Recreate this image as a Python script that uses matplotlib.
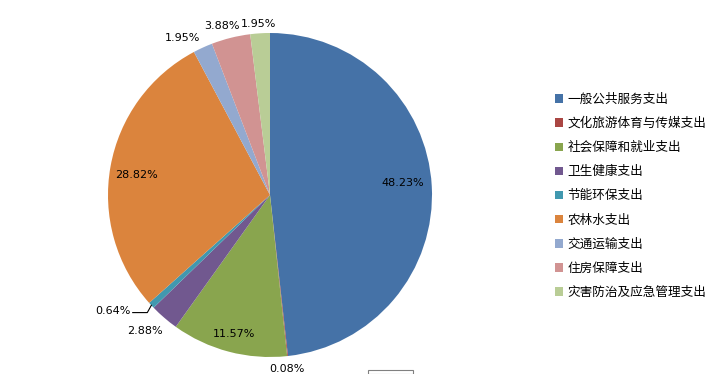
import numpy as np
import matplotlib
matplotlib.use('Agg')
import matplotlib.pyplot as plt
from matplotlib.patches import Rectangle

plt.rcParams['font.family'] = ['Noto Sans CJK SC', 'DejaVu Sans']

# === Data ===
categories = ['一般公共服务支出', '文化旅游体育与传媒支出', '社会保障和就业支出', '卫生健康支出',
              '节能环保支出', '农林水支出', '交通运输支出', '住房保障支出', '灾害防治及应急管理支出']
shares = [48.23, 0.08, 11.57, 2.88, 0.64, 28.82, 1.95, 3.88, 1.95]
colors = ['#4572A7', '#AA4643', '#89A54E', '#71588F', '#4198AF',
          '#DB843D', '#93A9CF', '#D19392', '#B9CD96']
# label placement: distance from centre (pie radius = 1) and angular nudge (deg)
label_r = [0.82, 1.08, 0.886, 1.14, 1.18, 0.836, 1.108, 1.085, 1.058]
label_shift = [2.0, -0.6, 0.2, -1.9, 0, 1.6, 4.5, 1.9, 0.2]

# === Figure ===
W, H = 713, 374
fig = plt.figure(figsize=(W / 100, H / 100), dpi=100)
cx, cy, rad = 270, 195, 162   # pixels, y from top
ax = fig.add_axes([(cx - rad) / W, (H - cy - rad) / H, 2 * rad / W, 2 * rad / H])

wedges, _ = ax.pie(shares, colors=colors, startangle=90, counterclock=False,
                   wedgeprops=dict(linewidth=0))
ax.set_xlim(-1, 1)
ax.set_ylim(-1, 1)
ax.set_aspect('equal')

# === Percentage labels ===
for i, w in enumerate(wedges):
    mid_deg = (w.theta1 + w.theta2) / 2
    txt = f'{shares[i]:.2f}%'
    if categories[i] == '节能环保支出':
        mid = np.deg2rad(mid_deg)
        ex, ey = np.cos(mid), np.sin(mid)
        elbow = (ex - 0.025, ey - 0.045)
        tx = elbow[0] - 0.10
        ax.plot([ex, elbow[0], tx + 0.01], [ey, elbow[1], elbow[1]],
                color='black', lw=0.8, clip_on=False)
        ax.text(tx, elbow[1] + 0.01, txt, ha='right', va='center',
                fontsize=8, family='DejaVu Sans')
    else:
        a = np.deg2rad(mid_deg + label_shift[i])
        r = label_r[i]
        ax.text(r * np.cos(a), r * np.sin(a), txt, ha='center', va='center',
                fontsize=8, family='DejaVu Sans')

# === Legend ===
handles = [Rectangle((0, 0), 1, 1, facecolor=c, edgecolor='none') for c in colors]
fig.legend(handles, categories, loc='upper left',
           bbox_to_anchor=(555 / W, 1 - 93 / H), frameon=False,
           fontsize=9.1, handlelength=0.65, handleheight=0.65,
           handletextpad=0.35, labelspacing=0.88, borderpad=0, borderaxespad=0)

# stray box edge at bottom of the original image
fig.patches.append(Rectangle((368 / W, 0), 45 / W, 4 / H, transform=fig.transFigure,
                             fill=False, edgecolor='#808080', lw=0.8))

fig.savefig('out.png', dpi=100)
